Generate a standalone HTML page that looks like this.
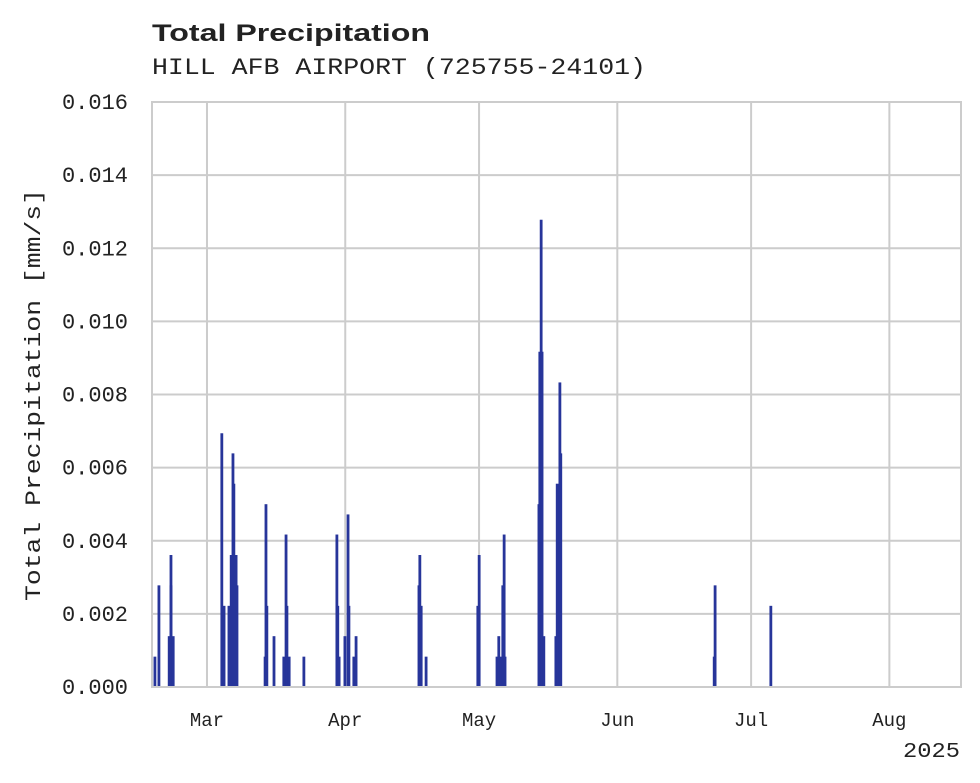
<!DOCTYPE html>
<html><head><meta charset="utf-8"><style>
body{margin:0;background:#fff}
svg{display:block}
text{font-family:"Liberation Mono",monospace;fill:#222}
</style></head><body>
<svg id="chart" width="980" height="783">
<text x="152" y="41" style="font-family:'Liberation Sans',sans-serif;font-weight:bold;font-size:24px" textLength="278" lengthAdjust="spacingAndGlyphs">Total Precipitation</text>
<text x="152" y="74" style="font-size:23px" textLength="494" lengthAdjust="spacingAndGlyphs">HILL AFB AIRPORT (725755-24101)</text>
<g id="grid"></g>
<g id="bars"></g>
<g id="axes"></g>
<text transform="translate(40,395) rotate(-90)" text-anchor="middle" style="font-size:22px" textLength="412" lengthAdjust="spacingAndGlyphs">Total Precipitation [mm/s]</text>
<text x="960" y="757" text-anchor="end" style="font-size:21px" textLength="57" lengthAdjust="spacingAndGlyphs">2025</text>
</svg>
<script>
// days since Mar 1 2025
const barDays=[-11.9,-11.0,-8.7,-8.3,-8.3,-7.8,3.1,3.6,4.7,4.9,5.2,5.4,5.6,5.8,6.1,6.3,6.5,12.8,13.0,13.2,14.8,17.0,17.5,17.7,18.2,21.5,28.9,29.1,29.4,30.7,31.4,31.6,32.7,33.2,47.3,47.5,47.8,48.9,60.5,60.8,64.8,65.2,65.7,66.1,66.4,66.6,74.2,74.4,74.7,74.9,75.3,78.0,78.3,78.5,78.9,79.1,113.5,113.7,126.2];
const barValues=[0.00083,0.00278,0.00139,0.00361,0.00278,0.00139,0.00694,0.00222,0.00222,0.00139,0.00361,0.00361,0.00639,0.00556,0.00361,0.00361,0.00278,0.00083,0.005,0.00222,0.00139,0.00083,0.00417,0.00222,0.00083,0.00083,0.00417,0.00222,0.00083,0.00139,0.00472,0.00222,0.00083,0.00139,0.00278,0.00361,0.00222,0.00083,0.00222,0.00361,0.00083,0.00139,0.00083,0.00278,0.00417,0.00083,0.005,0.00917,0.01278,0.00917,0.00139,0.00139,0.00556,0.00139,0.00833,0.00639,0.00083,0.00278,0.00222];
const yTicks=[0,0.002,0.004,0.006,0.008,0.010,0.012,0.014,0.016];
const yTickLabels=["0.000","0.002","0.004","0.006","0.008","0.010","0.012","0.014","0.016"];
const xTickDays=[0,31,61,92,122,153];
const xTickLabels=["Mar","Apr","May","Jun","Jul","Aug"];
const L=152,R=961,T=102,B=687,D0=-12.33,D1=169.06;
const xs=d=>L+(d-D0)/(D1-D0)*(R-L);
const ys=v=>B-v/0.016*(B-T);
const NS="http://www.w3.org/2000/svg";
function mk(tag,attrs,parent){const e=document.createElementNS(NS,tag);for(const k in attrs)e.setAttribute(k,attrs[k]);document.getElementById(parent).appendChild(e);return e;}
yTicks.forEach((v,i)=>{
 const l=mk('line',{x1:L,x2:R,y1:ys(v),y2:ys(v),stroke:'#cccccc','stroke-width':2},'grid');
 
 
 const t=mk('text',{x:128,y:ys(v)+7,'text-anchor':'end','font-size':'22px'},'axes');
 t.textContent=yTickLabels[i];
 
 
});
xTickDays.forEach((d,i)=>{
 const l=mk('line',{x1:xs(d),x2:xs(d),y1:T,y2:B,stroke:'#cccccc','stroke-width':2},'grid');
 
 
 const t=mk('text',{x:xs(d),y:726,'text-anchor':'middle','font-size':'19px'},'axes');
 t.textContent=xTickLabels[i];
 
 
});
const fr=mk('rect',{x:L,y:T,width:R-L,height:B-T,fill:'none',stroke:'#cccccc','stroke-width':2},'axes');


barDays.forEach((d,i)=>{
 const y=ys(barValues[i]);
 const r=mk('rect',{x:xs(d)-0.4,y:y,width:2.8,height:B-y,fill:'#27359a'},'bars');
 
 
});
</script>
</body></html>
